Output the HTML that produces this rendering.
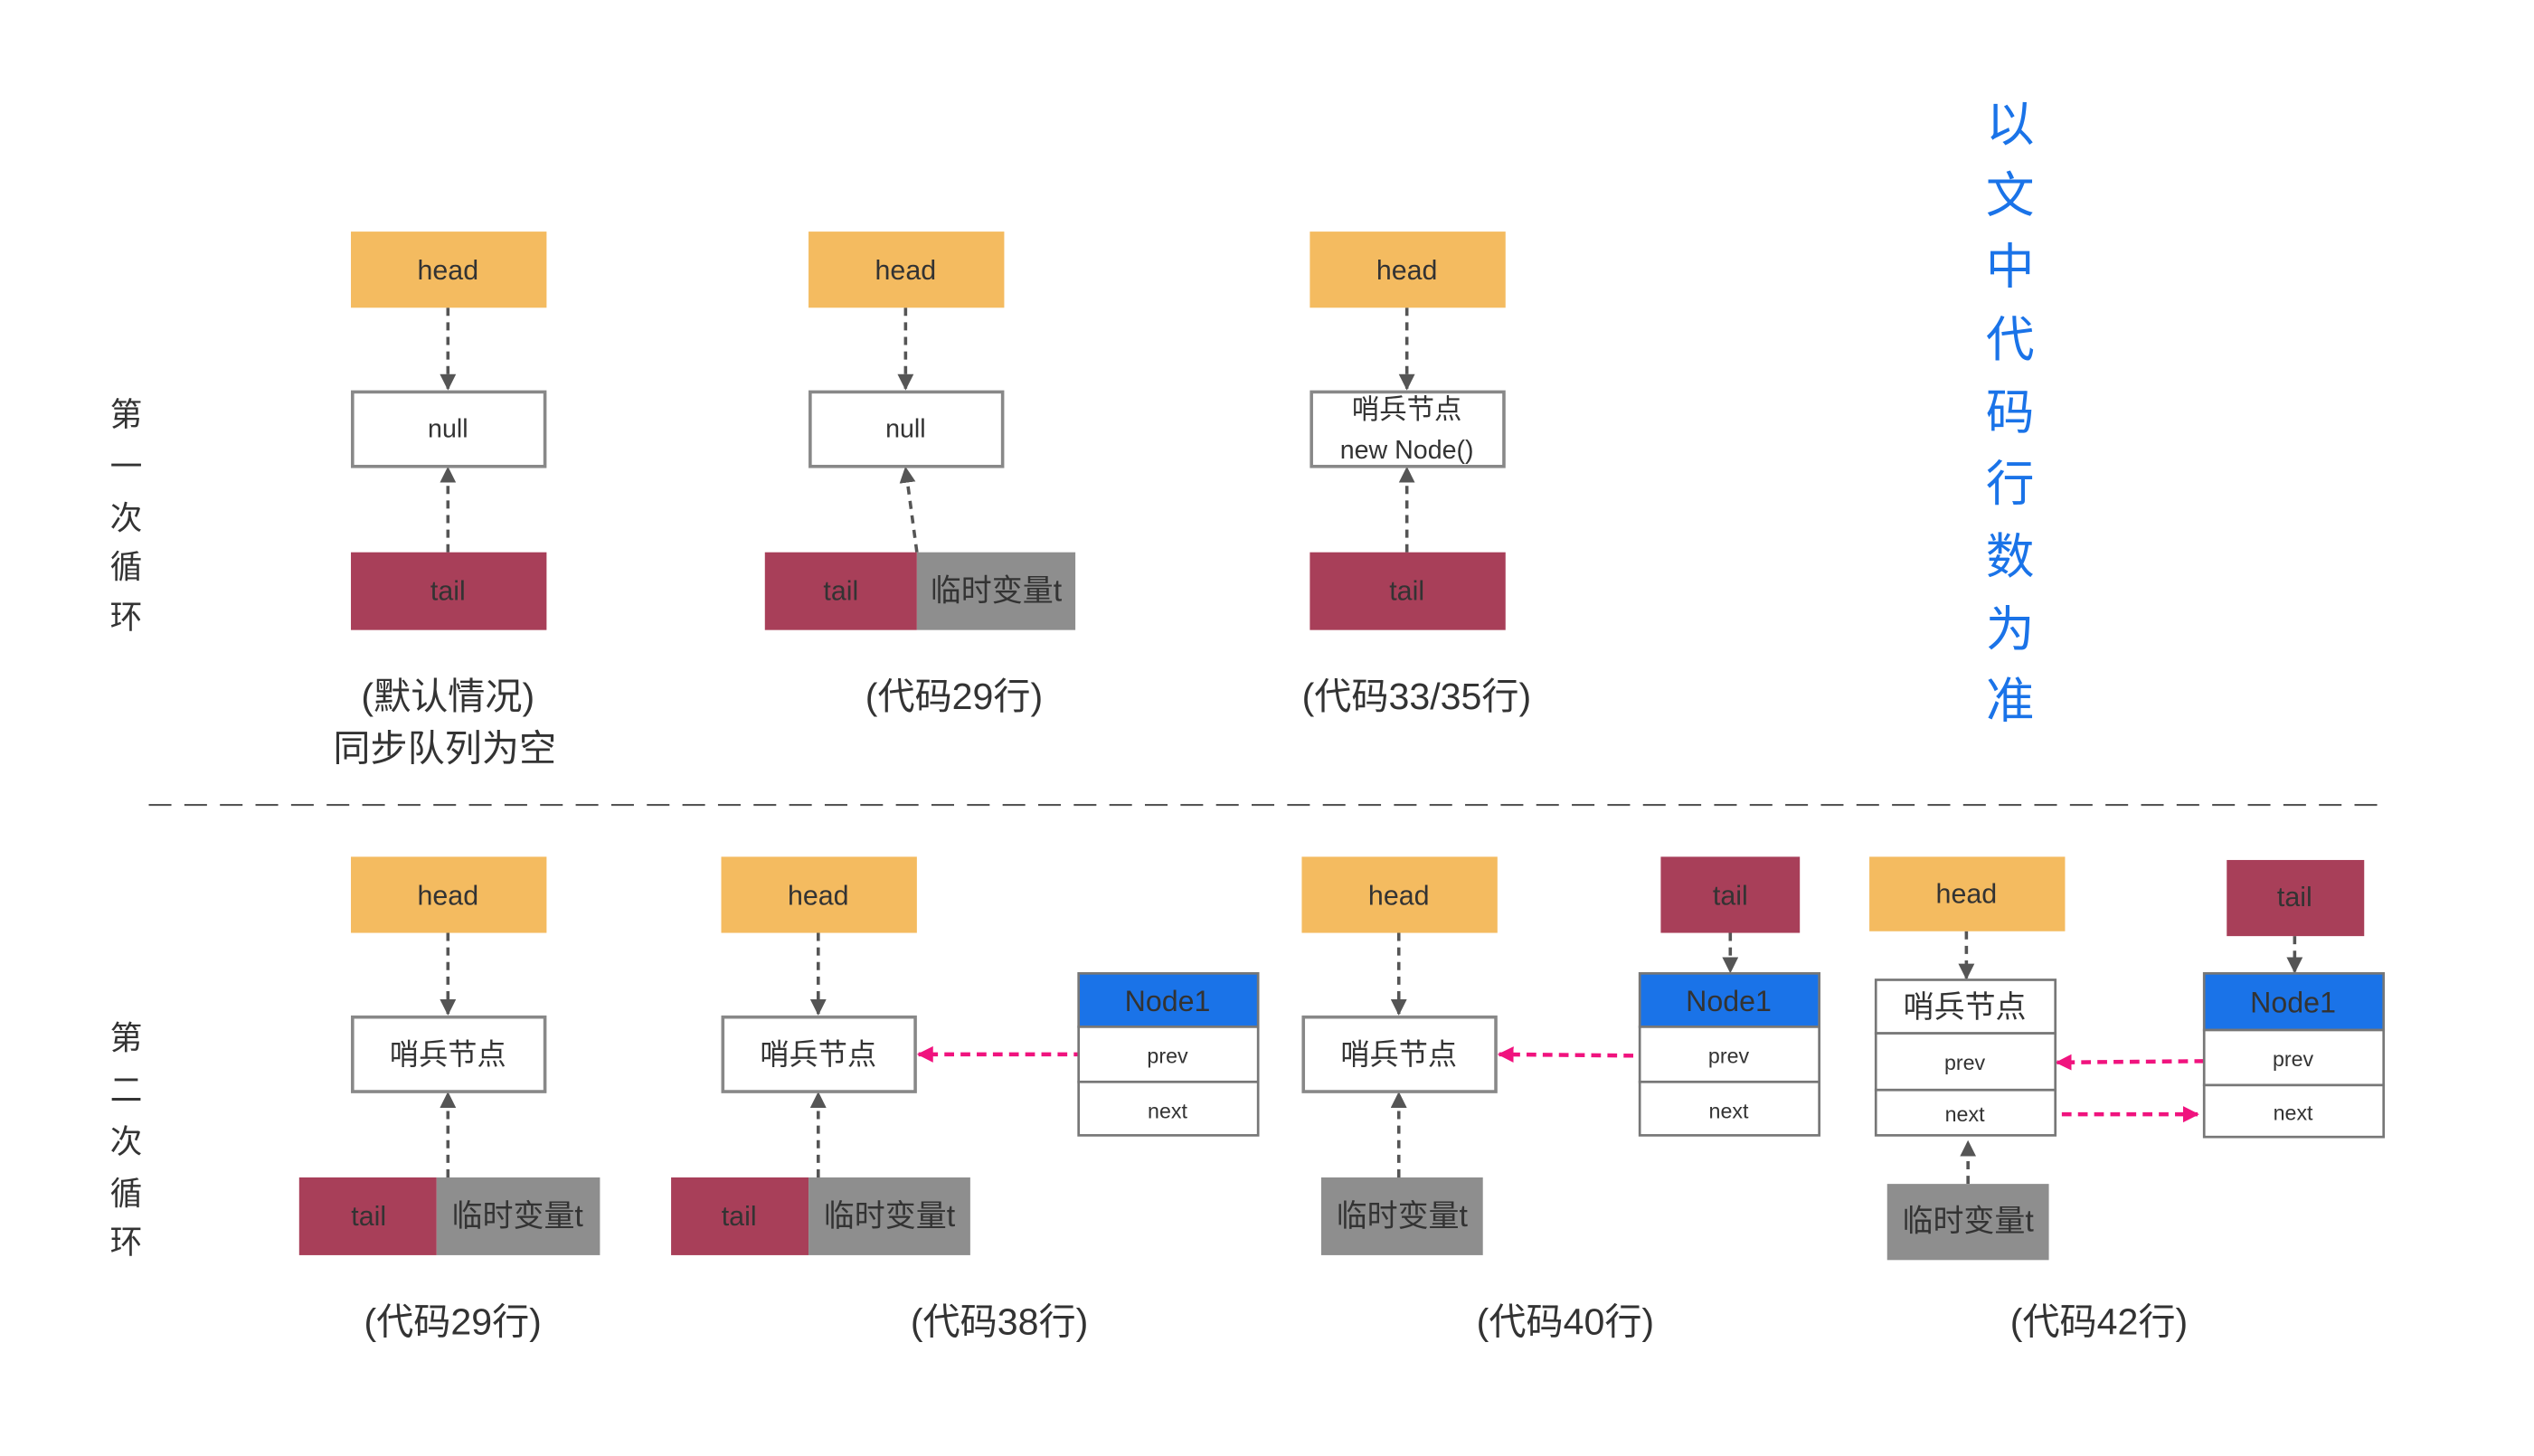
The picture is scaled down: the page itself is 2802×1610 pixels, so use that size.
<!DOCTYPE html>
<html><head><meta charset="utf-8"><style>
html,body{margin:0;padding:0;background:#fff;}
svg{display:block;}
text{font-family:"Liberation Sans","Noto Sans CJK SC",sans-serif;fill:#333;text-anchor:middle;dominant-baseline:central;}
</style></head><body>
<svg width="2802" height="1610" viewBox="0 0 1567 899" preserveAspectRatio="none" xmlns="http://www.w3.org/2000/svg">
<defs>
<marker id="ag" viewBox="0 0 10 10" refX="9" refY="5" markerWidth="5" markerHeight="5" orient="auto"><path d="M0,0 L10,5 L0,10z" fill="#555"/></marker>
<marker id="ap" viewBox="0 0 10 10" refX="9" refY="5" markerWidth="4" markerHeight="5" orient="auto"><path d="M0,0 L10,5 L0,10z" fill="#f0137e"/></marker>
</defs>
<g stroke="#555" stroke-width="2" stroke-dasharray="5,4" fill="none" marker-end="url(#ag)">
<line x1="277" y1="190" x2="277" y2="240"/>
<line x1="277" y1="341" x2="277" y2="289"/>
<line x1="560" y1="190" x2="560" y2="240"/>
<line x1="567" y1="341" x2="560" y2="289"/>
<line x1="870" y1="190" x2="870" y2="240"/>
<line x1="870" y1="341" x2="870" y2="289"/>
<line x1="277" y1="576" x2="277" y2="626"/>
<line x1="277" y1="727" x2="277" y2="675"/>
<line x1="506" y1="576" x2="506" y2="626"/>
<line x1="506" y1="727" x2="506" y2="675"/>
<line x1="865" y1="576" x2="865" y2="626"/>
<line x1="865" y1="727" x2="865" y2="675"/>
<line x1="1070" y1="576" x2="1070" y2="600"/>
<line x1="1216" y1="575" x2="1216" y2="604"/>
<line x1="1419" y1="578" x2="1419" y2="600"/>
<line x1="1217" y1="731" x2="1217" y2="705"/>
</g>
<line x1="92" y1="497" x2="1478" y2="497" stroke="#555" stroke-width="1.2" stroke-dasharray="14,8"/>
<g stroke="#f0137e" stroke-width="2.5" stroke-dasharray="6,4" fill="none" marker-end="url(#ap)">
<line x1="680" y1="651" x2="568" y2="651"/>
<line x1="1030" y1="652" x2="927" y2="651"/>
<line x1="1383" y1="655" x2="1272" y2="656"/>
<line x1="1245" y1="688" x2="1359" y2="688"/>
</g>
<rect x="217" y="143" width="121" height="47" fill="#f4bb60"/><text x="277" y="167" font-size="17">head</text>
<rect x="218" y="242" width="119" height="46" fill="#fff" stroke="#888" stroke-width="2"/><text x="277" y="265" font-size="16">null</text>
<rect x="217" y="341" width="121" height="48" fill="#a83f59"/><text x="277" y="365" font-size="17">tail</text>
<text x="277" y="430" font-size="23">(默认情况)</text><text x="275" y="462" font-size="23">同步队列为空</text>

<rect x="500" y="143" width="121" height="47" fill="#f4bb60"/><text x="560" y="167" font-size="17">head</text>
<rect x="501" y="242" width="119" height="46" fill="#fff" stroke="#888" stroke-width="2"/><text x="560" y="265" font-size="16">null</text>
<rect x="473" y="341" width="94" height="48" fill="#a83f59"/><text x="520" y="365" font-size="17">tail</text>
<rect x="567" y="341" width="98" height="48" fill="#8e8e8e"/><text x="616" y="365" font-size="19">临时变量t</text>
<text x="590" y="430" font-size="23">(代码29行)</text>

<rect x="810" y="143" width="121" height="47" fill="#f4bb60"/><text x="870" y="167" font-size="17">head</text>
<rect x="811" y="242" width="119" height="46" fill="#fff" stroke="#888" stroke-width="2"/><text x="870" y="253" font-size="17">哨兵节点</text><text x="870" y="278" font-size="16">new Node()</text>
<rect x="810" y="341" width="121" height="48" fill="#a83f59"/><text x="870" y="365" font-size="17">tail</text>
<text x="876" y="430" font-size="23">(代码33/35行)</text>

<g><text x="1243" y="77" font-size="30" style="fill:#1a73e8">以</text><text x="1243" y="121" font-size="30" style="fill:#1a73e8">文</text><text x="1243" y="165" font-size="30" style="fill:#1a73e8">中</text><text x="1243" y="210" font-size="30" style="fill:#1a73e8">代</text><text x="1243" y="255" font-size="30" style="fill:#1a73e8">码</text><text x="1243" y="299" font-size="30" style="fill:#1a73e8">行</text><text x="1243" y="344" font-size="30" style="fill:#1a73e8">数</text><text x="1243" y="389" font-size="30" style="fill:#1a73e8">为</text><text x="1243" y="433" font-size="30" style="fill:#1a73e8">准</text></g>

<text x="78" y="256" font-size="20">第</text><text x="78" y="288" font-size="20">一</text><text x="78" y="320" font-size="20">次</text><text x="78" y="350" font-size="20">循</text><text x="78" y="381" font-size="20">环</text>
<text x="78" y="641" font-size="20">第</text><text x="78" y="673" font-size="20">二</text><text x="78" y="705" font-size="20">次</text><text x="78" y="737" font-size="20">循</text><text x="78" y="767" font-size="20">环</text>

<rect x="217" y="529" width="121" height="47" fill="#f4bb60"/><text x="277" y="553" font-size="17">head</text>
<rect x="218" y="628" width="119" height="46" fill="#fff" stroke="#888" stroke-width="2"/><text x="277" y="651" font-size="18">哨兵节点</text>
<rect x="185" y="727" width="85" height="48" fill="#a83f59"/><text x="228" y="751" font-size="17">tail</text>
<rect x="270" y="727" width="101" height="48" fill="#8e8e8e"/><text x="320" y="751" font-size="19">临时变量t</text>
<text x="280" y="816" font-size="23">(代码29行)</text>

<rect x="446" y="529" width="121" height="47" fill="#f4bb60"/><text x="506" y="553" font-size="17">head</text>
<rect x="447" y="628" width="119" height="46" fill="#fff" stroke="#888" stroke-width="2"/><text x="506" y="651" font-size="18">哨兵节点</text>
<rect x="415" y="727" width="85" height="48" fill="#a83f59"/><text x="457" y="751" font-size="17">tail</text>
<rect x="500" y="727" width="100" height="48" fill="#8e8e8e"/><text x="550" y="751" font-size="19">临时变量t</text>
<rect x="667" y="601" width="111" height="33" fill="#1a73e8" stroke="#777" stroke-width="1.5"/><text x="722" y="618" font-size="18">Node1</text>
<rect x="667" y="634" width="111" height="34" fill="#fff" stroke="#777" stroke-width="1.5"/><text x="722" y="652" font-size="13">prev</text>
<rect x="667" y="668" width="111" height="33" fill="#fff" stroke="#777" stroke-width="1.5"/><text x="722" y="686" font-size="13">next</text>
<text x="618" y="816" font-size="23">(代码38行)</text>

<rect x="805" y="529" width="121" height="47" fill="#f4bb60"/><text x="865" y="553" font-size="17">head</text>
<rect x="806" y="628" width="119" height="46" fill="#fff" stroke="#888" stroke-width="2"/><text x="865" y="651" font-size="18">哨兵节点</text>
<rect x="817" y="727" width="100" height="48" fill="#8e8e8e"/><text x="867" y="751" font-size="19">临时变量t</text>
<rect x="1027" y="529" width="86" height="47" fill="#a83f59"/><text x="1070" y="553" font-size="17">tail</text>
<rect x="1014" y="601" width="111" height="33" fill="#1a73e8" stroke="#777" stroke-width="1.5"/><text x="1069" y="618" font-size="18">Node1</text>
<rect x="1014" y="634" width="111" height="34" fill="#fff" stroke="#777" stroke-width="1.5"/><text x="1069" y="652" font-size="13">prev</text>
<rect x="1014" y="668" width="111" height="33" fill="#fff" stroke="#777" stroke-width="1.5"/><text x="1069" y="686" font-size="13">next</text>
<text x="968" y="816" font-size="23">(代码40行)</text>

<rect x="1156" y="529" width="121" height="46" fill="#f4bb60"/><text x="1216" y="552" font-size="17">head</text>
<rect x="1160" y="605" width="111" height="33" fill="#fff" stroke="#777" stroke-width="1.5"/><text x="1215" y="622" font-size="19">哨兵节点</text>
<rect x="1160" y="638" width="111" height="35" fill="#fff" stroke="#777" stroke-width="1.5"/><text x="1215" y="656" font-size="13">prev</text>
<rect x="1160" y="673" width="111" height="28" fill="#fff" stroke="#777" stroke-width="1.5"/><text x="1215" y="688" font-size="13">next</text>
<rect x="1167" y="731" width="100" height="47" fill="#8e8e8e"/><text x="1217" y="754" font-size="19">临时变量t</text>
<rect x="1377" y="531" width="85" height="47" fill="#a83f59"/><text x="1419" y="554" font-size="17">tail</text>
<rect x="1363" y="601" width="111" height="35" fill="#1a73e8" stroke="#777" stroke-width="1.5"/><text x="1418" y="619" font-size="18">Node1</text>
<rect x="1363" y="636" width="111" height="34" fill="#fff" stroke="#777" stroke-width="1.5"/><text x="1418" y="654" font-size="13">prev</text>
<rect x="1363" y="670" width="111" height="32" fill="#fff" stroke="#777" stroke-width="1.5"/><text x="1418" y="687" font-size="13">next</text>
<text x="1298" y="816" font-size="23">(代码42行)</text>
</svg>
</body></html>
